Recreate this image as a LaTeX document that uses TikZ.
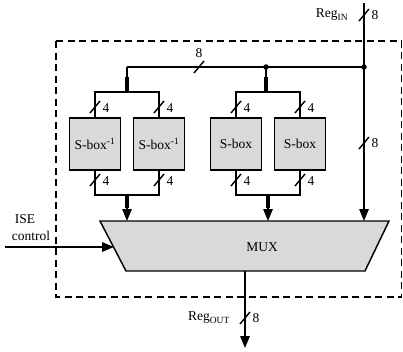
\documentclass[tikz,border=0pt]{standalone}
\usepackage{fontspec}
\setmainfont{Liberation Serif}
\usetikzlibrary{arrows.meta,calc}
\definecolor{boxgray}{gray}{0.85}
\newcommand\busslash[1]{\draw ($(#1)+(-5,6)$) -- ($(#1)+(5,-6)$);}
\begin{document}
\begin{tikzpicture}[x=1pt,y=-1pt,
  line width=1.45pt,
  arr/.style={-{Triangle[length=12pt,width=9.5pt]}},
  sbox/.style={draw,fill=boxgray,minimum width=51pt,minimum height=52pt,inner sep=0pt,font=\fontsize{13.5}{15}\selectfont},
  lbl/.style={font=\fontsize{13.5}{15}\selectfont,inner sep=0pt},
  dotn/.style={circle,fill,inner sep=0pt,minimum size=5.5pt},
  thickstem/.style={line width=3.2pt},
  frame/.style={line width=1.2pt,dash pattern=on 7pt off 4.5pt}
]
\useasboundingbox (0,0) rectangle (403,351);

% dashed frame
\draw[frame] (56,41) rectangle (401.5,297);

% coordinates
\coordinate (inTop) at (364,3);
\coordinate (dotR) at (364,67);
\coordinate (dotM) at (266,67);
\coordinate (busL) at (127,67);
\coordinate (splA) at (127,92);
\coordinate (splB) at (266,92);
\coordinate (joinA) at (127,195);
\coordinate (joinB) at (268,195);
\coordinate (mTL) at (100,221);
\coordinate (mTR) at (389,221);
\coordinate (mBR) at (365,271);
\coordinate (mBL) at (126,271);
\coordinate (iseStart) at (5,247);
\coordinate (iseEnd) at (114,247);
\coordinate (outStart) at (245,271);
\coordinate (outEnd) at (245,348);

% S-boxes
\node[sbox] (b1) at (95,144) {S-box\textsuperscript{-1}};
\node[sbox] (b2) at (159,144) {S-box\textsuperscript{-1}};
\node[sbox] (b3) at (236,144) {S-box};
\node[sbox] (b4) at (300,144) {S-box};

% MUX
\draw[fill=boxgray] (mTL) -- (mTR) -- (mBR) -- (mBL) -- cycle;
\node[font=\fontsize{13.5}{15}\selectfont] (mux) at (262,247) {MUX};

% input bus
\draw (inTop) -- (dotR);
\draw[arr] (dotR) -- (dotR |- mTL);
\draw (busL) -- (dotR);
\node[dotn] (dR) at (dotR) {};
\node[dotn] (dM) at (dotM) {};

% distribution to S-boxes
\draw (busL) -- (splA);
\draw[thickstem] ($(splA)+(0,-15)$) -- (splA);
\draw (b1.north) |- (splA) -| (b2.north);
\draw (dotM) -- (splB);
\draw[thickstem] ($(splB)+(0,-15)$) -- (splB);
\draw (b3.north) |- (splB) -| (b4.north);

% outputs of S-boxes
\draw (b1.south) |- (joinA) -| (b2.south);
\draw[arr] (joinA) -- (joinA |- mTL);
\draw[thickstem] (joinA) -- ($(joinA)+(0,13)$);
\draw (b3.south) |- (joinB) -| (b4.south);
\draw[arr] (joinB) -- (joinB |- mTL);
\draw[thickstem] (joinB) -- ($(joinB)+(0,13)$);

% control and output
\draw[arr] (iseStart) -- (iseEnd);
\draw[arr] (outStart) -- (outEnd);

% bus width slashes
\busslash{364,15}
\busslash{199,67}
\busslash{364,143}
\busslash{245,318}
\busslash{95,107}
\busslash{159,107}
\busslash{236,107}
\busslash{300,107}
\busslash{95,180}
\busslash{159,180}
\busslash{236,180}
\busslash{300,180}

% labels
\node[lbl] (lin) at (332,15) {Reg\textsubscript{IN}};
\node[lbl] (l8a) at (375,15) {8};
\node[lbl] (l8b) at (199,53) {8};
\node[lbl] (l8c) at (375,143) {8};
\node[lbl] (lout) at (209,318) {Reg\textsubscript{OUT}};
\node[lbl] (l8d) at (256,318) {8};
\node[lbl] (t1) at (106,108) {4};
\node[lbl] (t2) at (170,108) {4};
\node[lbl] (t3) at (247,108) {4};
\node[lbl] (t4) at (311,108) {4};
\node[lbl] (u1) at (106,181) {4};
\node[lbl] (u2) at (170,181) {4};
\node[lbl] (u3) at (247,181) {4};
\node[lbl] (u4) at (311,181) {4};
\node[lbl] (ise) at (25,219) {ISE};
\node[lbl] (ctl) at (31,236) {control};
\end{tikzpicture}
\end{document}
